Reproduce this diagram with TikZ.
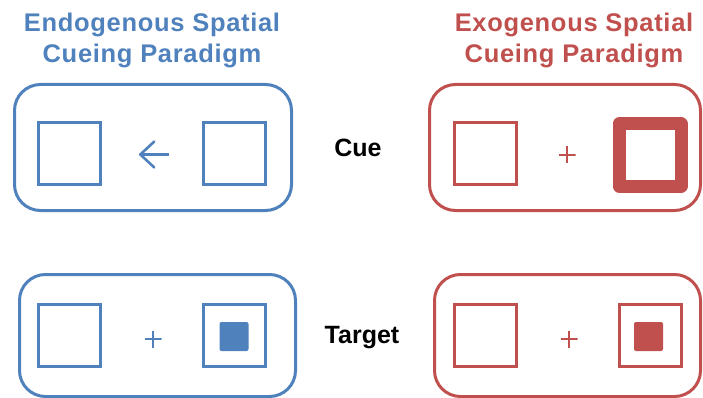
\documentclass[tikz,border=0pt]{standalone}
\usepackage{fontspec}
\setmainfont{Liberation Sans}
\usetikzlibrary{arrows.meta}
\definecolor{eblue}{HTML}{4F81BD}
\definecolor{ered}{HTML}{C0504D}
\begin{document}
\begin{tikzpicture}[x=1pt,y=-1pt,
  panel/.style={draw, rectangle, line width=3pt, rounded corners=26pt, inner sep=0pt},
  sq/.style={draw, rectangle, line width=3pt, minimum width=62pt, minimum height=62pt, inner sep=0pt},
  thicksq/.style={draw, rectangle, line width=13pt, line join=round, minimum width=62pt, minimum height=62pt, inner sep=0pt},
  dot/.style={fill, rectangle, rounded corners=2pt, minimum width=29pt, minimum height=29pt, inner sep=0pt},
  title/.style={font=\bfseries\fontsize{25.5}{31}\selectfont\addfontfeature{LetterSpace=2.7}, anchor=base, inner sep=0pt},
  lbl/.style={font=\bfseries\fontsize{25}{28}\selectfont, text=black, inner sep=0pt},
  plus/.style={rectangle, minimum width=17pt, minimum height=17pt, inner sep=0pt,
    path picture={\draw[line width=2.7pt]
      (path picture bounding box.west) -- (path picture bounding box.east)
      (path picture bounding box.north) -- (path picture bounding box.south);}}]
\useasboundingbox (0,0) rectangle (703,398);
% titles
\node[title, text=eblue] (tl1) at (152,32) {Endogenous Spatial};
\node[title, text=eblue] (tl2) at (152,63) {Cueing Paradigm};
\node[title, text=ered] (tr1) at (574,32) {Exogenous Spatial};
\node[title, text=ered] (tr2) at (574,63) {Cueing Paradigm};
% panels
\node[panel, eblue, minimum width=277pt, minimum height=126pt] (pbc) at (153,147.5) {};
\node[panel, ered, minimum width=271pt, minimum height=126pt] (prc) at (565,147.5) {};
\node[panel, eblue, minimum width=276pt, minimum height=122pt] (pbt) at (157.5,335.5) {};
\node[panel, ered, minimum width=266pt, minimum height=122pt] (prt) at (567.5,335.5) {};
% labels
\node[lbl] (cue) at (358,148) {Cue};
\node[lbl] (tgt) at (362,338) {Target};
% blue cue
\node[sq, eblue] (bc1) at (69.5,153.5) {};
\node[sq, eblue] (bc2) at (234.5,153.5) {};
\coordinate (arrS) at (169,154.5);
\coordinate (arrE) at (139,154.5);
\draw[eblue, line width=2.6pt, -{Straight Barb[length=14pt, width=26pt, round]}] (arrS) -- (arrE);
% red cue
\node[sq, ered] (rc1) at (485.5,153.5) {};
\node[plus, ered] (rcp) at (567,155) {};
\node[thicksq, ered] (rc2) at (650,155) {};
% blue target
\node[sq, eblue] (bt1) at (69.5,335.5) {};
\node[plus, eblue] (btp) at (153,339) {};
\node[sq, eblue] (bt2) at (234.5,335.5) {};
\node[dot, eblue] (btd) at (234,336.5) {};
% red target
\node[sq, ered] (rt1) at (485.5,335.5) {};
\node[plus, ered] (rtp) at (569,339) {};
\node[sq, ered] (rt2) at (650,335.5) {};
\node[dot, ered] (rtd) at (648.5,336.5) {};
\end{tikzpicture}
\end{document}
